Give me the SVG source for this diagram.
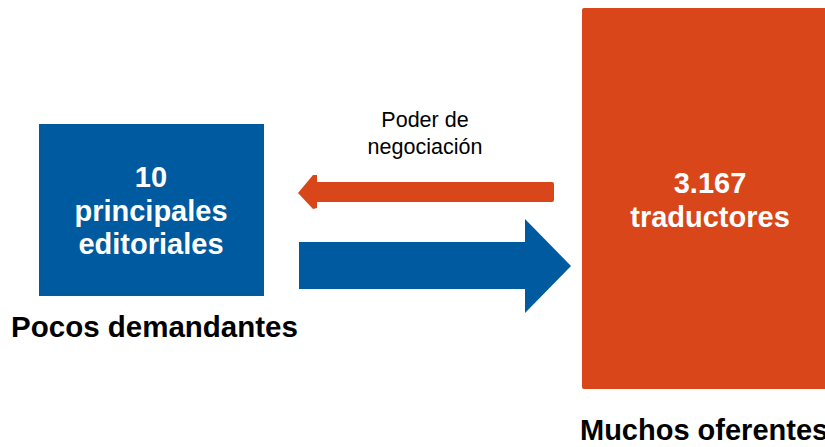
<svg xmlns="http://www.w3.org/2000/svg" width="825" height="447" viewBox="0 0 825 447">
<style>
.w{fill:#fff;font-family:"Liberation Sans",Arial,sans-serif;font-weight:bold;text-anchor:middle;font-size:29px}
.k{fill:#000;font-family:"Liberation Sans",Arial,sans-serif}
</style>
<rect width="825" height="447" fill="#fff"/>
<g id="connectors">
<path d="M317,182 H552 Q554,182 554,184 V200 Q554,202 552,202 H317 V208 L313,209 L298,193 L313,175 L317,175 Z" fill="#D8461A"/>
<path d="M299,242 H525 V219 L571,266 L525,313 V289 H299 Z" fill="#005A9F"/>
<text class="k" x="425" y="127" font-size="21.5" text-anchor="middle">Poder de</text>
<text class="k" x="425" y="154" font-size="21.5" text-anchor="middle">negociación</text>
</g>
<g id="editoriales">
<rect x="39" y="124" width="225" height="172" fill="#005A9F"/>
<text class="w" x="151" y="187">10</text>
<text class="w" x="151" y="221">principales</text>
<text class="w" x="151" y="254">editoriales</text>
<text class="k" x="154.5" y="337" font-size="29.5" font-weight="bold" text-anchor="middle">Pocos demandantes</text>
</g>
<g id="traductores">
<rect x="582" y="8" width="250" height="381" rx="2" fill="#D8461A"/>
<text class="w" x="710" y="193">3.167</text>
<text class="w" x="710" y="227">traductores</text>
<text class="k" x="580" y="440" font-size="29" font-weight="bold">Muchos oferentes</text>
</g>
</svg>
